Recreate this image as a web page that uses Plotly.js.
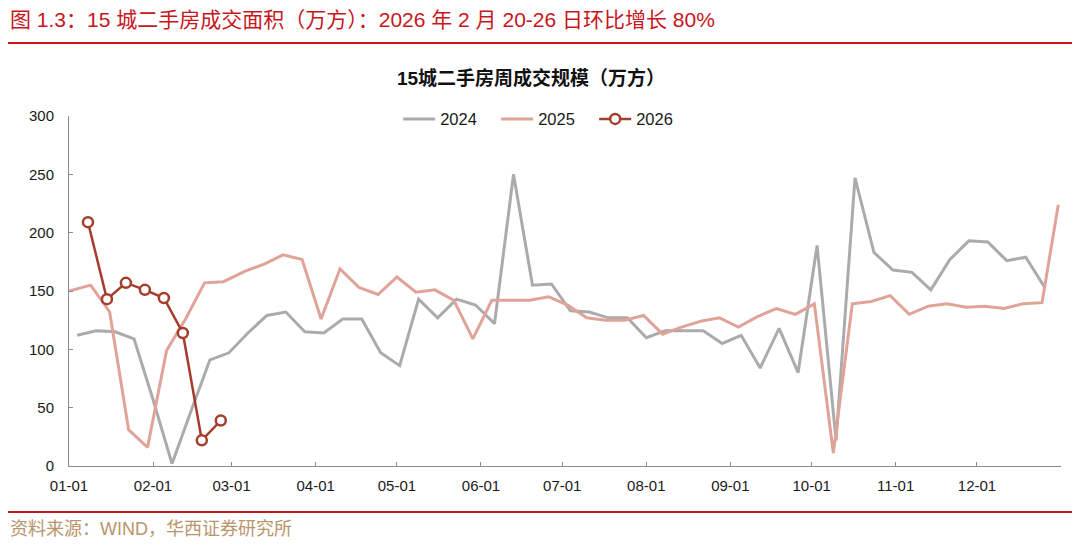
<!DOCTYPE html>
<html><head><meta charset="utf-8">
<script src="https://cdn.plot.ly/plotly-3.0.1.min.js"></script>
<style>html,body{margin:0;padding:0;background:#fff}#chart{width:1080px;height:544px}</style>
</head><body><div id="chart"></div>
<script>
// Common axis year used to overlay each year's weekly data by month-day
const axisYear = '2024';

const dates2024 = ['01-04','01-11','01-18','01-25','02-01','02-08','02-15','02-22','02-29',
  '03-07','03-14','03-21','03-28','04-04','04-11','04-18','04-25','05-02','05-09','05-16','05-23','05-30',
  '06-06','06-13','06-20','06-27','07-04','07-11','07-18','07-25','08-01','08-08','08-15','08-22','08-29',
  '09-05','09-12','09-19','09-26','10-03','10-10','10-17','10-24','10-31','11-07','11-14','11-21','11-28',
  '12-05','12-12','12-19','12-26'];
const values2024 = [112,116,115,109,57,2,47,91,97,
  114,129,132,115,114,126,126,97,86,143,127,143,138,
  122,250,155,156,133,132,127,127,110,116,116,116,105,
  112,84,118,80,189,22,247,183,168,166,151,177,193,
  192,176,179,153];

const dates2025 = ['01-01','01-09','01-16','01-23','01-30','02-06','02-13','02-20','02-27',
  '03-06','03-13','03-20','03-27','04-03','04-10','04-17','04-24','05-01','05-08','05-15','05-22','05-29',
  '06-05','06-12','06-19','06-26','07-03','07-10','07-17','07-24','07-31','08-07','08-14','08-21','08-28',
  '09-04','09-11','09-18','09-25','10-02','10-09','10-16','10-23','10-30','11-06','11-13','11-20','11-27',
  '12-04','12-11','12-18','12-25','12-31'];
const values2025 = [150,155,132,31,16,99,126,157,158,
  167,173,181,177,126,169,153,147,162,149,151,142,109,
  142,142,142,145,138,127,125,125,129,113,119,124,127,
  119,128,135,130,139,11,139,141,146,130,137,139,136,
  137,135,139,140,224];

const dates2026 = ['01-08','01-15','01-22','01-29','02-05','02-12','02-19','02-26'];
const values2026 = [209,143,157,151,144,114,22,39];

const monthTicks = ['01-01','02-01','03-01','04-01','05-01','06-01','07-01','08-01','09-01','10-01','11-01','12-01'];
const yTicks = [0,50,100,150,200,250,300];

const headerText = '图 1.3：15 城二手房成交面积（万方）：2026 年 2 月 20-26 日环比增长 80%';
const chartTitle = '15城二手房周成交规模（万方）';
const sourceText = '资料来源：WIND，华西证券研究所';

const toDate = md => axisYear + '-' + md;
const FONT = '"Liberation Sans", Arial, "Noto Sans CJK SC", sans-serif';
const CJK = '"Liberation Sans", Arial, "Noto Sans CJK SC", sans-serif';

const traces = [
  {name:'2024', x:dates2024.map(toDate), y:values2024, type:'scatter', mode:'lines',
   line:{color:'#ABABAB', width:3}},
  {name:'2025', x:dates2025.map(toDate), y:values2025, type:'scatter', mode:'lines',
   line:{color:'#E0A398', width:3}},
  {name:'2026', x:dates2026.map(toDate), y:values2026, type:'scatter', mode:'lines+markers',
   line:{color:'#A63C2E', width:2.5},
   marker:{symbol:'circle', size:10, color:'#ffffff', line:{color:'#A63C2E', width:2.5}}}
];

const tickVals = monthTicks.map(toDate).concat(['2025-01-01']);
const tickText = monthTicks.concat(['']);

const layout = {
  width:1080, height:544,
  margin:{l:69, r:19, t:116, b:78},
  paper_bgcolor:'#ffffff', plot_bgcolor:'#ffffff',
  font:{family:FONT, size:15, color:'#1a1a1a'},
  showlegend:true,
  legend:{orientation:'h', x:0.48, xanchor:'center', y:0.991, yanchor:'middle',
          font:{family:FONT, size:16.5, color:'#1a1a1a'}, bgcolor:'rgba(0,0,0,0)',
          itemwidth:32, entrywidth:51, entrywidthmode:'pixels'},
  title:{text:'<b>'+chartTitle+'</b>', x:531/1080, xanchor:'center', xref:'container',
         y:1-78/544, yanchor:'middle', yref:'container',
         font:{family:CJK, size:19, color:'#111111'}},
  xaxis:{type:'date', range:['2024-01-01','2025-01-01'], tickmode:'array',
         tickvals:tickVals, ticktext:tickText, ticks:'inside', ticklen:4, tickcolor:'#8c8c8c',
         showline:true, linecolor:'#8c8c8c', linewidth:1, showgrid:false, zeroline:false,
         tickfont:{family:FONT, size:15, color:'#1a1a1a'}, ticklabelstandoff:6, fixedrange:true},
  yaxis:{range:[0,300], tickmode:'array', tickvals:yTicks, ticks:'inside', ticklen:4,
         tickcolor:'#8c8c8c', showline:true, linecolor:'#8c8c8c', linewidth:1,
         showgrid:false, zeroline:false, tickfont:{family:FONT, size:15, color:'#1a1a1a'},
         ticklabelstandoff:11, fixedrange:true},
  annotations:[
    {text:headerText, xref:'paper', yref:'paper', x:(8-69)/992, y:(466-19)/350,
     xanchor:'left', yanchor:'middle', showarrow:false,
     font:{family:CJK, size:21, color:'#C8161D'}},
    {text:sourceText, xref:'paper', yref:'paper', x:(8-69)/992, y:(466-529)/350,
     xanchor:'left', yanchor:'middle', showarrow:false,
     font:{family:CJK, size:18, color:'#B8956A'}}
  ],
  shapes:[
    {type:'line', xref:'paper', yref:'paper', x0:(8-69)/992, x1:(1072-69)/992,
     y0:(466-43)/350, y1:(466-43)/350, line:{color:'#C8161D', width:2}},
    {type:'line', xref:'paper', yref:'paper', x0:(8-69)/992, x1:(1072-69)/992,
     y0:(466-512)/350, y1:(466-512)/350, line:{color:'#C8161D', width:2}}
  ]
};

Plotly.newPlot('chart', traces, layout, {displayModeBar:false, staticPlot:true});
</script></body></html>
